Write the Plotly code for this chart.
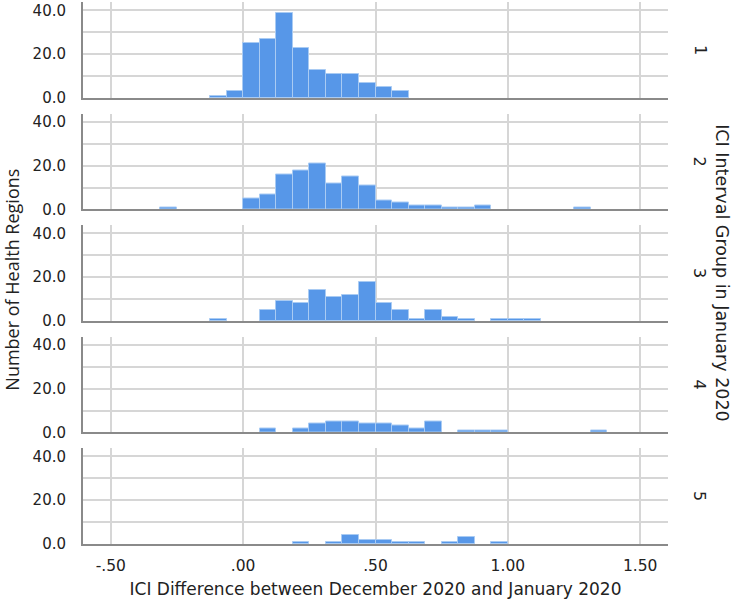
import plotly.graph_objects as go
from plotly.subplots import make_subplots

# histogram bins (left edges), width 0.0625
bin_left = [-0.3125, -0.25, -0.1875, -0.125, -0.0625, 0.0, 0.0625, 0.125, 0.1875,
            0.25, 0.3125, 0.375, 0.4375, 0.5, 0.5625, 0.625, 0.6875, 0.75, 0.8125,
            0.875, 0.9375, 1.0, 1.0625, 1.125, 1.1875, 1.25, 1.3125]
bin_width = 0.0625

groups = ["1", "2", "3", "4", "5"]
counts_g1 = [0, 0, 0, 1, 3, 25, 27, 39, 23, 13, 11, 11, 7, 5, 3, 0, 0, 0, 0, 0, 0, 0, 0, 0, 0, 0, 0]
counts_g2 = [1, 0, 0, 0, 0, 5, 7, 16, 18, 21, 12, 15, 11, 4, 3, 2, 2, 1, 1, 2, 0, 0, 0, 0, 0, 1, 0]
counts_g3 = [0, 0, 0, 1, 0, 0, 5, 9, 8, 14, 11, 12, 18, 8, 5, 1, 5, 2, 1, 0, 1, 1, 1, 0, 0, 0, 0]
counts_g4 = [0, 0, 0, 0, 0, 0, 2, 0, 2, 4, 5, 5, 4, 4, 3, 2, 5, 0, 1, 1, 1, 0, 0, 0, 0, 0, 1]
counts_g5 = [0, 0, 0, 0, 0, 0, 0, 0, 1, 0, 1, 4, 2, 2, 1, 1, 0, 1, 3, 0, 1, 0, 0, 0, 0, 0, 0]
all_counts = [counts_g1, counts_g2, counts_g3, counts_g4, counts_g5]

x_ticks = [-0.5, 0.0, 0.5, 1.0, 1.5]
x_ticktext = ["-.50", ".00", ".50", "1.00", "1.50"]
y_ticks = [0, 10, 20, 30, 40]
y_ticktext = ["0.0", "", "20.0", "", "40.0"]

BAR = "#5797E8"
GRID = "#D6D6D6"
AXIS = "#8A8A8A"
FONT = "DejaVu Sans"
TXT = "#222"

fig = make_subplots(rows=5, cols=1, shared_xaxes=True, vertical_spacing=0.0286)

for i, counts in enumerate(all_counts):
    xs = [b + bin_width / 2 for b, c in zip(bin_left, counts) if c > 0]
    ys = [c for c in counts if c > 0]
    fig.add_trace(go.Bar(
        x=xs, y=ys, width=bin_width,
        marker=dict(color=BAR, line=dict(color="#A9CBF3", width=1)),
        showlegend=False, hoverinfo="x+y"
    ), row=i + 1, col=1)
    fig.update_yaxes(
        range=[0, 43.8], tickvals=y_ticks, ticktext=y_ticktext,
        showgrid=True, gridcolor=GRID, gridwidth=1.5,
        showline=True, linecolor=AXIS, linewidth=2, zeroline=False,
        ticks="", ticklabelstandoff=12, automargin=False,
        tickfont=dict(family=FONT, size=15, color=TXT),
        row=i + 1, col=1
    )
    fig.update_xaxes(
        range=[-0.605, 1.605], tickvals=x_ticks, ticktext=x_ticktext,
        showgrid=True, gridcolor=GRID, gridwidth=1.5,
        showline=True, linecolor=AXIS, linewidth=2, zeroline=False,
        ticks="", automargin=False, ticklabelstandoff=6,
        tickfont=dict(family=FONT, size=15.5, color=TXT),
        row=i + 1, col=1
    )
    # facet label on the right
    dom = fig.layout["yaxis" + ("" if i == 0 else str(i + 1))].domain
    fig.add_annotation(
        text=groups[i], xref="paper", yref="paper", xanchor="center", yanchor="middle",
        x=1.0547, y=(dom[0] + dom[1]) / 2, showarrow=False, textangle=90,
        font=dict(family=FONT, size=16, color=TXT)
    )

fig.update_xaxes(
    title=dict(text="ICI Difference between December 2020 and January 2020",
               font=dict(family=FONT, size=17, color=TXT), standoff=10),
    row=5, col=1
)

fig.add_annotation(
    text="Number of Health Regions", xref="paper", yref="paper",
    xanchor="center", yanchor="middle",
    x=-0.122, y=0.487, showarrow=False, textangle=-90,
    font=dict(family="Open Sans", size=18, color=TXT)
)
fig.add_annotation(
    text="ICI Interval Group in January 2020", xref="paper", yref="paper",
    xanchor="center", yanchor="middle",
    x=1.092, y=0.5, showarrow=False, textangle=90,
    font=dict(family=FONT, size=17.5, color=TXT)
)

fig.update_layout(
    width=733, height=604,
    margin=dict(l=83, r=65, t=2, b=60),
    plot_bgcolor="white", paper_bgcolor="white",
    bargap=0
)

# drop the browser's default 8px body margin so the figure fills the window
fig.write_html("out.html", config={"displayModeBar": False},
               post_script="document.body.style.margin='0';")
